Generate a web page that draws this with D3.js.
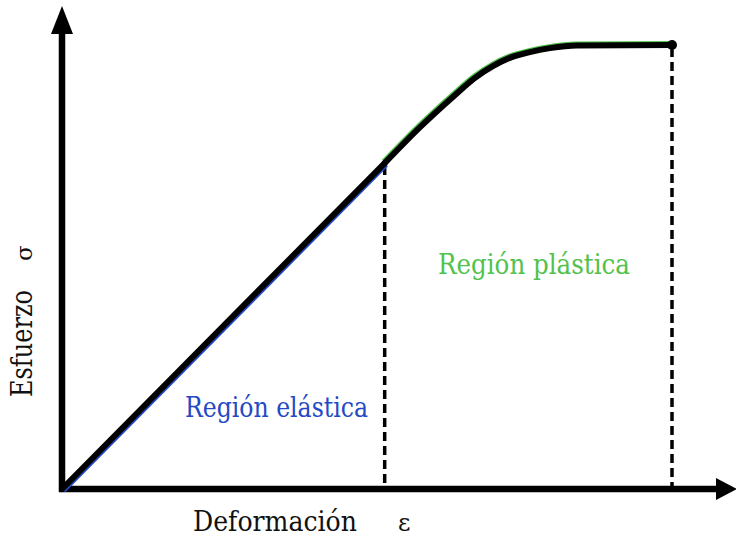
<!DOCTYPE html>
<html><head><meta charset="utf-8">
<script src="https://cdn.jsdelivr.net/npm/d3@7"></script>
<style>html,body{margin:0;padding:0;background:#fff}svg{display:block}</style>
</head><body>
<script>
// Data (strain ε, stress σ in arbitrary units)
const elasticStrain = [0, 5.29];
const elasticStress = [0, 7.34];
const plasticStrain = [5.29, 5.87, 6.44, 6.77, 7.07, 7.34, 7.67, 8.0, 8.44, 10];
const plasticStress = [7.34, 8.15, 8.87, 9.26, 9.53, 9.71, 9.84, 9.93, 9.99, 10];
const markerStrain = [5.29, 10];   // dashed guides
const labels = {
  elastic: "Región elástica",
  plastic: "Región plástica",
  xTitle: "Deformación",
  xSym: "ε",
  yTitle: "Esfuerzo",
  ySym: "σ"
};

const W = 736, H = 539;
const font = "'DejaVu Serif', 'Liberation Serif', serif";
const blue = "#2449c4", green = "#52c24c";

const svg = d3.select("body").append("svg").attr("width", W).attr("height", H);
const x = d3.scaleLinear().domain([0, 10]).range([62, 672]);
const y = d3.scaleLinear().domain([0, 10]).range([489, 45]);

const elastic = elasticStrain.map((e, i) => [e, elasticStress[i]]);
const plastic = plasticStrain.map((e, i) => [e, plasticStress[i]]);
const line = d3.line().x(d => x(d[0])).y(d => y(d[1]));
const curve = d3.line().x(d => x(d[0])).y(d => y(d[1])).curve(d3.curveMonotoneX);

// dashed guide lines
markerStrain.forEach((e, i) => {
  const yv = i === 0 ? elasticStress[1] : plasticStress[plasticStress.length - 1];
  svg.append("line")
    .attr("x1", x(e)).attr("x2", x(e))
    .attr("y1", y(yv) + 3).attr("y2", y(0))
    .attr("stroke", "#000").attr("stroke-width", 3.5)
    .attr("stroke-dasharray", "9,5");
});

// axes with arrowheads
svg.append("line").attr("x1", x(0)).attr("x2", x(0)).attr("y1", y(0) + 3).attr("y2", 30)
  .attr("stroke", "#000").attr("stroke-width", 6.5);
svg.append("path").attr("d", `M${x(0)},6 L${x(0) - 11},34 L${x(0) + 11},34 Z`).attr("fill", "#000");
svg.append("line").attr("x1", x(0) - 3).attr("x2", 720).attr("y1", y(0)).attr("y2", y(0))
  .attr("stroke", "#000").attr("stroke-width", 6.5);
svg.append("path").attr("d", `M737,${y(0)} L716,${y(0) - 11} L716,${y(0) + 11} Z`).attr("fill", "#000");

// coloured underlays
svg.append("path").datum(elastic).attr("d", line).attr("fill", "none")
  .attr("stroke", blue).attr("stroke-width", 5).attr("transform", "translate(1.5,1.5)");
svg.append("path").datum(plastic).attr("d", curve).attr("fill", "none")
  .attr("stroke", green).attr("stroke-width", 5).attr("transform", "translate(-1,-1.5)");

// black curve
svg.append("path").datum(elastic).attr("d", line).attr("fill", "none")
  .attr("stroke", "#000").attr("stroke-width", 6).attr("stroke-linecap", "round");
svg.append("path").datum(plastic).attr("d", curve).attr("fill", "none")
  .attr("stroke", "#000").attr("stroke-width", 6).attr("stroke-linecap", "round");
svg.append("circle").attr("cx", x(10)).attr("cy", y(10)).attr("r", 5).attr("fill", "#000");

// labels
function txt(t, px, py, len, color, size) {
  return svg.append("text").attr("x", px).attr("y", py).text(t)
    .attr("font-family", font).attr("font-size", size).attr("fill", color)
    .attr("textLength", len).attr("lengthAdjust", "spacingAndGlyphs");
}
txt(labels.elastic, 185, 417, 183, blue, 28);
txt(labels.plastic, 438, 274, 192, green, 28);
txt(labels.xTitle, 193, 531, 164, "#111", 27);
svg.append("text").attr("x", 398).attr("y", 531).text(labels.xSym)
  .attr("font-family", font).attr("font-size", 24).attr("fill", "#111");
svg.append("text").attr("transform", "translate(32,397) rotate(-90)").text(labels.yTitle)
  .attr("font-family", font).attr("font-size", 29).attr("fill", "#111")
  .attr("textLength", 107).attr("lengthAdjust", "spacingAndGlyphs");
svg.append("text").attr("transform", "translate(32,261) rotate(-90)").text(labels.ySym)
  .attr("font-family", font).attr("font-size", 23).attr("fill", "#111");
</script>
</body></html>
